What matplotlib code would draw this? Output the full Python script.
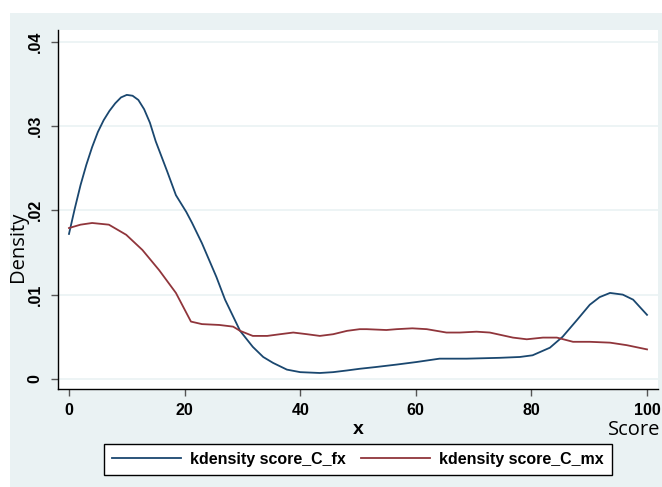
import matplotlib
matplotlib.use('Agg')
import matplotlib.pyplot as plt
from matplotlib.patches import Rectangle

# Kernel density estimates of score_C, read off at selected points
fx_x = [0, 1, 2, 3, 4, 5, 6, 7, 8, 9, 10, 11, 12, 13, 14, 15, 17, 18.5, 20.3,
        21.3, 23, 25.5, 27, 29.6, 31.8, 33.6, 35.3, 37.7, 40, 43.4, 45.7, 48.1,
        50.3, 53, 56.7, 60.1, 64.1, 68.8, 74.5, 78, 80.2, 83.2, 85.4, 87.9, 90.1,
        91.8, 93.6, 95.8, 97.6, 100]
fx_y = [.0172, .0202, .0230, .0254, .0275, .0293, .0307, .0318, .0327, .0334,
        .0337, .0336, .0331, .0320, .0304, .0282, .0246, .0218, .0198, .0185,
        .0161, .0121, .0094, .0057, .0038, .0026, .0019, .0011, .0008, .0007,
        .0008, .0010, .0012, .0014, .0017, .0020, .0024, .0024, .0025, .0026,
        .0028, .0037, .0050, .0070, .0088, .0097, .0102, .0100, .0094, .0076]

mx_x = [0, 2, 4, 6.9, 9.9, 12.7, 15.6, 18.5, 21.1, 23, 26, 28.4, 29.6, 31.8, 34.3,
        36.5, 38.8, 41.2, 43.4, 45.7, 48.1, 50.3, 51.5, 54.9, 56.7, 59.4, 61.9,
        65.3, 67.6, 70.5, 72.8, 76.8, 79.2, 82, 84.4, 87.2, 90.1, 93.6, 96.5, 100]
mx_y = [.0179, .0183, .0185, .0183, .0171, .0153, .0129, .0102, .0068, .0065,
        .0064, .0062, .0057, .0051, .0051, .0053, .0055, .0053, .0051, .0053,
        .0057, .0059, .0059, .0058, .0059, .0060, .0059, .0055, .0055, .0056,
        .0055, .0049, .0047, .0049, .0049, .0044, .0044, .0043, .0040, .0035]

x_ticks = [0, 20, 40, 60, 80, 100]
y_ticks = [0, .01, .02, .03, .04]
y_tick_labels = ['0', '.01', '.02', '.03', '.04']
legend_labels = ['kdensity score_C_fx', 'kdensity score_C_mx']

bg = '#EAF2F3'
navy = '#1A476F'
maroon = '#90353B'
bold_font = 'Liberation Sans'

W, H = 662, 487
fig = plt.figure(figsize=(W / 100, H / 100), dpi=100, facecolor='white')
# light graph region behind the plot
fig.patches.append(Rectangle((10 / W, 0), 1 - 10 / W, 1 - 13 / H,
                             transform=fig.transFigure, facecolor=bg,
                             edgecolor='none', zorder=-10))

ax = fig.add_axes([58 / W, 1 - 389 / H, 600 / W, 359 / H])
ax.set_facecolor('white')

for v in y_ticks:
    ax.axhline(v, color=bg, lw=1.2, zorder=1)

ax.plot(fx_x, fx_y, color=navy, lw=1.3, label=legend_labels[0], zorder=3)
ax.plot(mx_x, mx_y, color=maroon, lw=1.3, label=legend_labels[1], zorder=3)

ax.set_xlim(-1.9, 101.9)
ax.set_ylim(-0.0012, 0.0414)

ax.set_xticks(x_ticks)
ax.set_xticklabels([str(t) for t in x_ticks], fontfamily=bold_font,
                   fontweight='bold', fontsize=11.5)
ax.set_yticks(y_ticks)
ax.set_yticklabels(y_tick_labels, fontfamily=bold_font, fontweight='bold',
                   fontsize=11.5, rotation=90, va='center')
ax.tick_params(axis='x', length=5, width=1, color='#555555', pad=5)
ax.tick_params(axis='y', length=5, width=1, color='#555555', pad=6)

for side in ['top', 'right']:
    ax.spines[side].set_visible(False)
for side in ['left', 'bottom']:
    ax.spines[side].set_color('black')
    ax.spines[side].set_linewidth(1.0)

ax.set_xlabel('x', fontfamily=bold_font, fontweight='bold', fontsize=14,
              labelpad=2)
ax.set_ylabel('Density', fontfamily='Open Sans', fontsize=14.5)
ax.yaxis.set_label_coords(-0.05, 0.396)

fig.text(608 / W, 1 - 430 / H, 'Score', fontfamily='Open Sans', fontsize=14.5,
         ha='left', va='center')

leg = ax.legend(loc='center', ncol=2, mode='expand',
                bbox_to_anchor=(104 / W, 1 - 476 / H, 508 / W, 33 / H),
                bbox_transform=fig.transFigure, fancybox=False, framealpha=1,
                edgecolor='black', handlelength=4.3, handletextpad=0.6,
                borderaxespad=0, borderpad=0.5,
                prop={'family': bold_font, 'weight': 'bold', 'size': 11.5})
leg.get_frame().set_linewidth(1.0)

fig.savefig('out.png', dpi=100, facecolor='white')
plt.close(fig)
